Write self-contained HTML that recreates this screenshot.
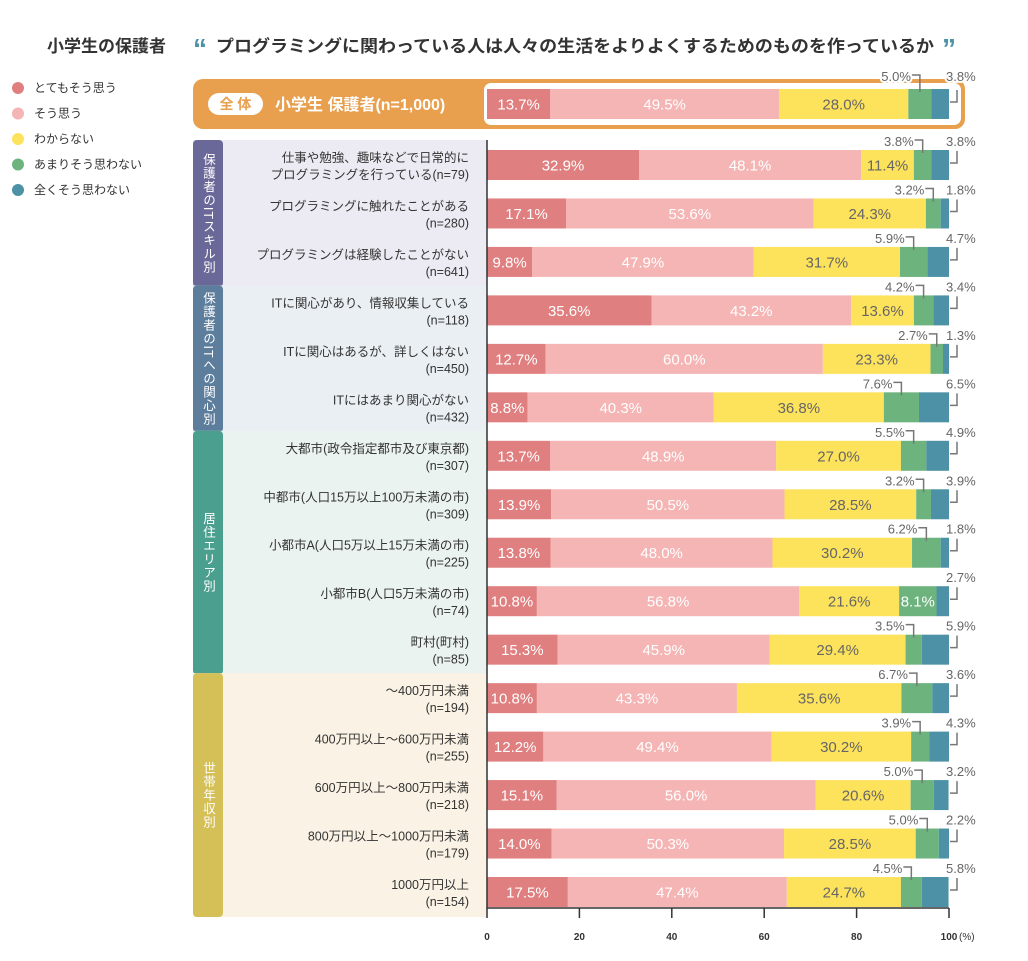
<!DOCTYPE html>
<html><head><meta charset="utf-8"><style>
body{margin:0;background:#fff;}
svg{display:block;font-family:"Liberation Sans","Noto Sans CJK JP",sans-serif;}
.vt{writing-mode:vertical-rl;}
</style></head><body>
<svg id="c" width="1028" height="961" viewBox="0 0 1028 961"></svg>
<script>
const seriesNames=["とてもそう思う","そう思う","わからない","あまりそう思わない","全くそう思わない"];
const colors=["#e07f7f","#f5b5b5","#fde25c","#6db37e","#4c91a6"];
const overall=[13.7,49.5,28.0,5.0,3.8];
const rowLabels=[["仕事や勉強、趣味などで日常的に","プログラミングを行っている(n=79)"],["プログラミングに触れたことがある","(n=280)"],["プログラミングは経験したことがない","(n=641)"],["ITに関心があり、情報収集している","(n=118)"],["ITに関心はあるが、詳しくはない","(n=450)"],["ITにはあまり関心がない","(n=432)"],["大都市(政令指定都市及び東京都)","(n=307)"],["中都市(人口15万以上100万未満の市)","(n=309)"],["小都市A(人口5万以上15万未満の市)","(n=225)"],["小都市B(人口5万未満の市)","(n=74)"],["町村(町村)","(n=85)"],["～400万円未満","(n=194)"],["400万円以上～600万円未満","(n=255)"],["600万円以上～800万円未満","(n=218)"],["800万円以上～1000万円未満","(n=179)"],["1000万円以上","(n=154)"]];
const s1=[32.9,17.1,9.8,35.6,12.7,8.8,13.7,13.9,13.8,10.8,15.3,10.8,12.2,15.1,14.0,17.5];
const s2=[48.1,53.6,47.9,43.2,60.0,40.3,48.9,50.5,48.0,56.8,45.9,43.3,49.4,56.0,50.3,47.4];
const s3=[11.4,24.3,31.7,13.6,23.3,36.8,27.0,28.5,30.2,21.6,29.4,35.6,30.2,20.6,28.5,24.7];
const s4=[3.8,3.2,5.9,4.2,2.7,7.6,5.5,3.2,6.2,8.1,3.5,6.7,3.9,5.0,5.0,4.5];
const s5=[3.8,1.8,4.7,3.4,1.3,6.5,4.9,3.9,1.8,2.7,5.9,3.6,4.3,3.2,2.2,5.8];
const groups=[{name:"保護者のITスキル別",from:0,to:2,c:"#6a6898",bg:"#ecebf3"},{name:"保護者のITへの関心別",from:3,to:5,c:"#5c7d9c",bg:"#eaeff4"},{name:"居住エリア別",from:6,to:10,c:"#4b9f8f",bg:"#ebf3f0"},{name:"世帯年収別",from:11,to:15,c:"#d5bf57",bg:"#faf3e5"}];
const xTicks=[0,20,40,60,80,100];

const svg=document.getElementById('c');const NS="http://www.w3.org/2000/svg";
function el(t,a,p){const e=document.createElementNS(NS,t);for(const k in a)e.setAttribute(k,a[k]);(p||svg).appendChild(e);return e;}
const X0=487,X1=949;const x=v=>X0+(X1-X0)*v/100;
const yc=i=>165+(892-165)*i/15;const BH=30;

// title
let t=el('text',{x:47,y:52,'font-size':17,'font-weight':'bold',fill:'#333'});t.textContent="小学生の保護者";

t=el('text',{x:193,y:58,'font-size':28,'font-weight':'bold',fill:'#4c91a6'});t.textContent="“";
t=el('text',{x:216,y:52,'font-size':17,'font-weight':'bold',fill:'#333',textLength:718,lengthAdjust:'spacingAndGlyphs'});t.textContent="プログラミングに関わっている人は人々の生活をよりよくするためのものを作っているか";

t=el('text',{x:942,y:58,'font-size':28,'font-weight':'bold',fill:'#4c91a6'});t.textContent="”";

// legend
seriesNames.forEach((n,i)=>{const g=el('g',{});

el('circle',{cx:18,cy:88+25.5*i,r:6,fill:colors[i]},g);
const tt=el('text',{x:34,y:92+25.5*i,'font-size':12,fill:'#333'},g);tt.textContent=n;});

// overall box
const ob=el('rect',{x:193,y:79,width:772,height:50,rx:10,fill:'#e89f4e'});

el('rect',{x:484,y:83,width:477,height:42,rx:7,fill:'#fff'});
el('rect',{x:208,y:93,width:55,height:22,rx:11,fill:'#fff'});
t=el('text',{x:235.5,y:109,'font-size':14,'font-weight':'bold',fill:'#e89f4e','text-anchor':'middle'});t.textContent="全 体";
t=el('text',{x:275,y:110,'font-size':16,'font-weight':'bold',fill:'#fff'});t.textContent="小学生 保護者(n=1,000)";

// groups
groups.forEach(g=>{const y0=yc(g.from)-25,y1=yc(g.to)+25;
const gg=el('g',{});
el('rect',{x:193,y:y0,width:294,height:y1-y0,fill:g.bg},gg);
el('rect',{x:193,y:y0,width:30,height:y1-y0,rx:4,fill:g.c},gg);
const cy=(y0+y1)/2;
const tt=el('text',{x:208,y:cy,'font-size':12.5,fill:'#fff','class':'vt','text-anchor':'middle','letter-spacing':1},gg);tt.textContent=g.name;});

function bar(vals,cy,labelIn,name,top0){const g=el('g',{});

let acc=0;vals.forEach((v,k)=>{const xa=x(acc),xb=x(acc+v);
el('rect',{x:xa,y:cy-BH/2,width:xb-xa,height:BH,fill:colors[k]},g);
if(labelIn[k]){const tt=el('text',{x:(xa+xb)/2,y:cy+5.5,'font-size':15,'text-anchor':'middle',fill:k==2?'#666':'#fff'},g);tt.textContent=v.toFixed(1)+"%";}
acc+=v;});
const top=top0||cy-BH/2;
if(!labelIn[3]){const gc=x(vals[0]+vals[1]+vals[2]+vals[3]/2);
const tt=el('text',{x:gc-9,y:top-4,'font-size':13,'text-anchor':'end',fill:'#666',stroke:top0?'#fff':'none','stroke-width':top0?4:0,'paint-order':'stroke'},g);tt.textContent=vals[3].toFixed(1)+"%";
el('path',{d:`M${gc-8} ${top-10}H${gc}V${cy-BH/2+3}`,stroke:'#777','stroke-width':1.5,fill:'none'},g);}
const tt=el('text',{x:946,y:top-4,'font-size':13,fill:'#666',stroke:top0?'#fff':'none','stroke-width':top0?4:0,'paint-order':'stroke'},g);tt.textContent=vals[4].toFixed(1)+"%";
el('path',{d:`M957 ${cy-BH/2+1}V${cy-2}H950`,stroke:'#777','stroke-width':1.5,fill:'none'},g);}

bar(overall,104,[1,1,1,0,0],'bar-overall',85);
rowLabels.forEach((lb,i)=>{const vals=[s1[i],s2[i],s3[i],s4[i],s5[i]];
const tt=el('text',{x:469,y:yc(i)-3,'font-size':12.5,'text-anchor':'end',fill:'#333'});tt.textContent=lb[0];

const t2=el('text',{x:469,y:yc(i)+14,'font-size':12.5,'text-anchor':'end',fill:'#333'});t2.textContent=lb[1];
bar(vals,yc(i),[1,1,1,vals[3]>=8,0],'bar-row');});

// axis
const ax=el('g',{});
el('path',{d:`M${X0} 140V908H${X1}`,stroke:'#333','stroke-width':1.5,fill:'none'},ax);
xTicks.forEach(v=>{el('line',{x1:x(v),x2:x(v),y1:908,y2:918,stroke:'#333','stroke-width':1.5},ax);
const tt=el('text',{x:x(v),y:940,'font-size':10,'font-weight':'bold','text-anchor':'middle',fill:'#333'},ax);tt.textContent=String(v);});
t=el('text',{x:x(100)+10,y:940,'font-size':10,fill:'#333'});t.textContent="(%)";
</script>
</body></html>
